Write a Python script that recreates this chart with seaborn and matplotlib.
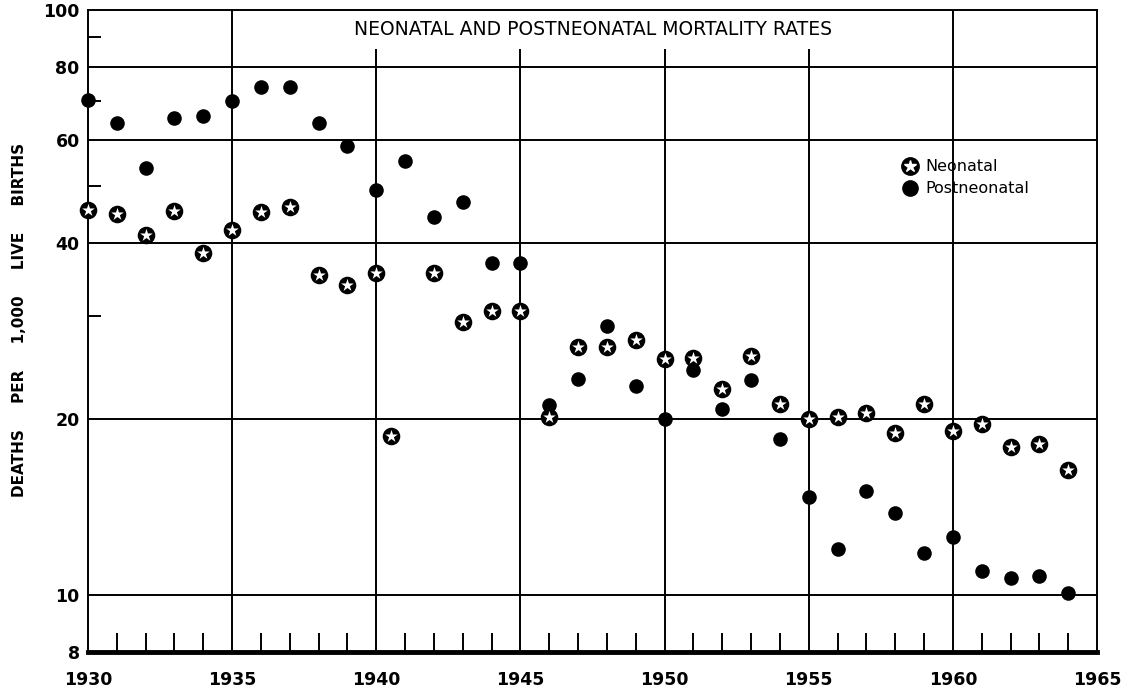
import numpy as np
import pandas as pd
import matplotlib
matplotlib.use("Agg")
import matplotlib.pyplot as plt
import seaborn as sns
from matplotlib.lines import Line2D
from matplotlib.ticker import FixedLocator, NullFormatter

# values (deaths per 1,000 live births)
neo_years = [1930, 1931, 1932, 1933, 1934, 1935, 1936, 1937, 1938, 1939,
             1940, 1940.5, 1942, 1943, 1944, 1945, 1946, 1947, 1948, 1949,
             1950, 1951, 1952, 1953, 1954, 1955, 1956, 1957, 1958, 1959,
             1960, 1961, 1962, 1963, 1964]
neo_rates = [45.6, 44.9, 41.3, 45.4, 38.5, 42.1, 45.2, 46.0, 35.2, 33.9,
             35.6, 18.7, 35.5, 29.3, 30.6, 30.6, 20.2, 26.6, 26.6, 27.3,
             25.3, 25.4, 22.5, 25.6, 21.2, 20.0, 20.2, 20.5, 18.9, 21.2,
             19.1, 19.6, 17.9, 18.1, 16.4]

post_years = list(range(1930, 1965))
post_rates = [70.3, 64.0, 53.6, 65.4, 65.8, 70.0, 73.8, 74.0, 64.0, 58.6,
              49.2, 55.3, 44.3, 46.9, 37.0, 37.0, 21.1, 23.4, 28.9, 22.8,
              20.0, 24.3, 20.8, 23.3, 18.5, 14.7, 12.0, 15.1, 13.8, 11.8,
              12.6, 11.0, 10.7, 10.8, 10.1]

y_ticks = [8, 10, 20, 40, 60, 80, 100]
y_minor = [30, 50, 70, 90]
grid_y = [10, 20, 40, 60, 80]
x_ticks = [1930, 1935, 1940, 1945, 1950, 1955, 1960, 1965]
grid_x = [1935, 1940, 1945, 1950, 1955, 1960]

neo = pd.DataFrame({"year": neo_years, "rate": neo_rates})
post = pd.DataFrame({"year": post_years, "rate": post_rates})

sns.set_style("white")
plt.rcParams["font.family"] = ["DejaVu Sans"]
plt.rcParams["text.color"] = "black"
plt.rcParams["axes.labelcolor"] = "black"
plt.rcParams["xtick.color"] = "black"
plt.rcParams["ytick.color"] = "black"

fig = plt.figure(figsize=(11.38, 6.93), dpi=100)
ax = fig.add_axes([0.0773, 0.0592, 0.8867, 0.9264])

ax.set_yscale("log")
ax.set_xlim(1930, 1965)
ax.set_ylim(8, 100)

for g in grid_y:
    ax.axhline(g, color="black", lw=1.4, zorder=1)
for g in grid_x:
    ax.axvline(g, color="black", lw=1.4, zorder=1)

sns.scatterplot(data=post, x="year", y="rate", ax=ax, marker="o", s=110,
                color="black", edgecolor="black", linewidth=0, zorder=3, clip_on=False)
sns.scatterplot(data=neo, x="year", y="rate", ax=ax, marker="o", s=160,
                color="black", edgecolor="black", linewidth=0, zorder=4, clip_on=False)
sns.scatterplot(data=neo, x="year", y="rate", ax=ax, marker="*", s=90,
                color="white", edgecolor="white", linewidth=0, zorder=5, clip_on=False)

ax.set_xticks(x_ticks)
ax.set_xticklabels([str(v) for v in x_ticks])
ax.xaxis.set_minor_locator(FixedLocator(list(range(1931, 1965))))
ax.xaxis.set_minor_formatter(NullFormatter())
ax.tick_params(axis="x", which="major", length=0, pad=14, labelsize=12.5)
ax.tick_params(axis="x", which="minor", direction="in", length=14, width=1.4,
               bottom=True, color="black")

ax.set_yticks(y_ticks)
ax.set_yticklabels([str(v) for v in y_ticks])
ax.yaxis.set_minor_locator(FixedLocator(y_minor))
ax.yaxis.set_minor_formatter(NullFormatter())
ax.tick_params(axis="y", which="major", length=0, pad=6, labelsize=12.5)
ax.tick_params(axis="y", which="minor", direction="in", length=9, width=1.4,
               left=True, color="black")
for lab in ax.get_xticklabels() + ax.get_yticklabels():
    lab.set_fontweight("bold")

for side in ["top", "right", "left"]:
    ax.spines[side].set_color("black")
    ax.spines[side].set_linewidth(1.4)
ax.spines["bottom"].set_color("black")
ax.spines["bottom"].set_linewidth(3.5)

ax.set_xlabel("")
ax.set_ylabel("DEATHS     PER     1,000     LIVE     BIRTHS", fontsize=11,
              fontweight="bold")
ax.yaxis.set_label_coords(-0.06, 0.517)

ax.text(0.5005, 0.969, "NEONATAL AND POSTNEONATAL MORTALITY RATES",
        transform=ax.transAxes, ha="center", va="center", fontsize=13.5,
        zorder=6, bbox=dict(facecolor="white", edgecolor="none", pad=7))

h_neo = (Line2D([], [], marker="o", color="black", ls="", markersize=12.5),
         Line2D([], [], marker="*", color="white", ls="", markersize=9))
h_post = Line2D([], [], marker="o", color="black", ls="", markersize=11)
ax.legend([h_neo, h_post], ["Neonatal", "Postneonatal"], frameon=False,
          loc="upper left", bbox_to_anchor=(0.792, 0.79), fontsize=11.5,
          handlelength=1.0, handletextpad=0.5, labelspacing=0.45)

fig.savefig("out.png", dpi=100)
